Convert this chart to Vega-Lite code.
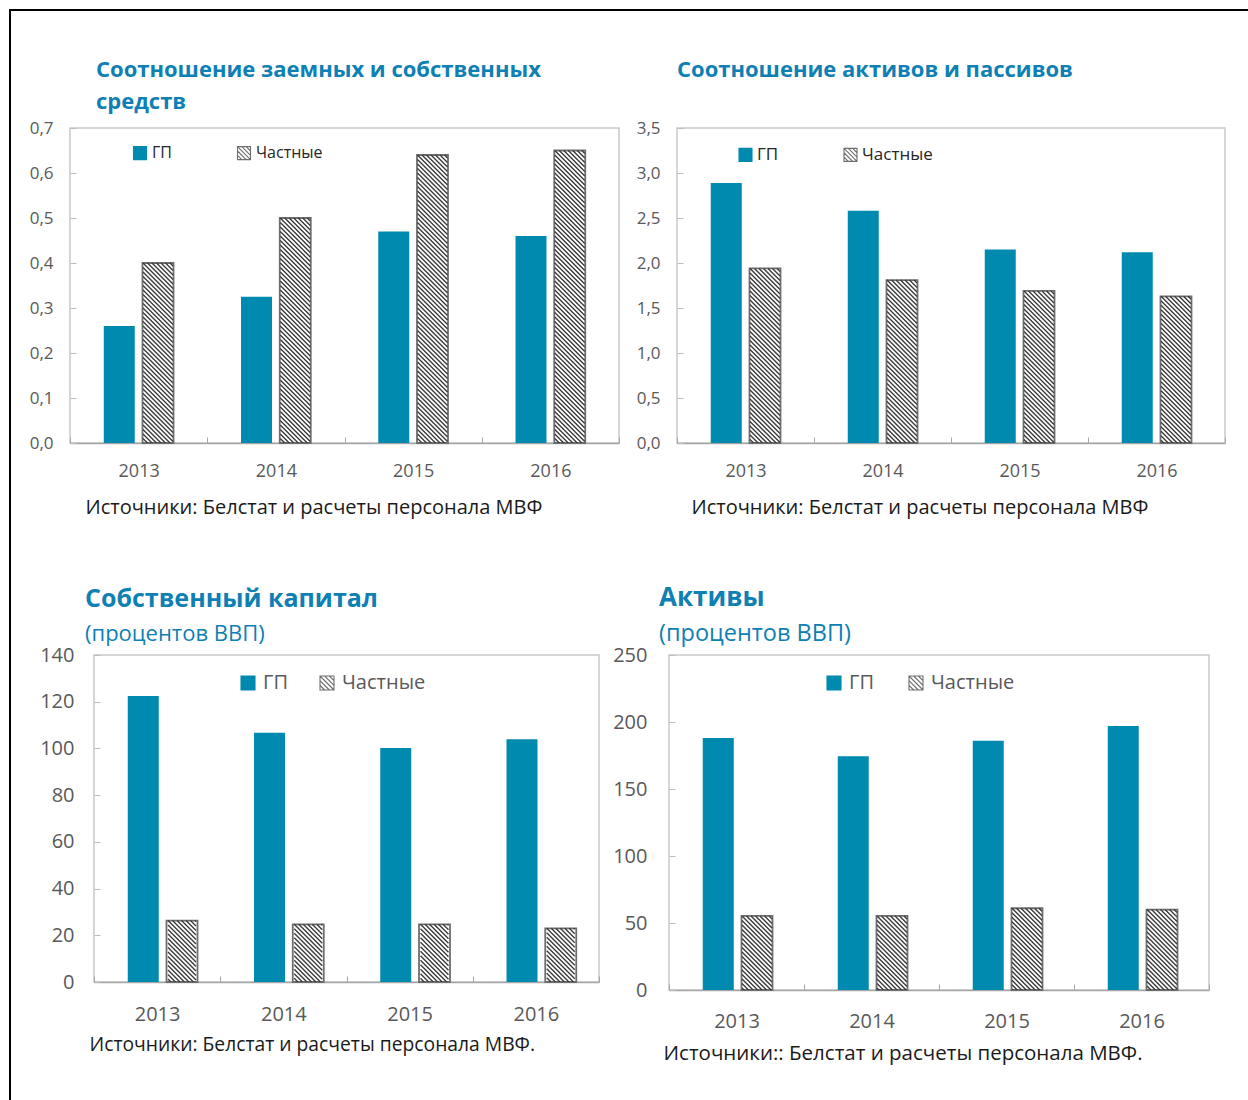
{
  "$schema": "https://vega.github.io/schema/vega-lite/v6.json",
  "background": "white",
  "padding": {"left": 9, "top": 9, "right": 0, "bottom": 0},
  "datasets": {
    "debtEquity": [
      {"year": "2013", "series": "ГП", "value": 0.26},
      {"year": "2013", "series": "Частные", "value": 0.40},
      {"year": "2014", "series": "ГП", "value": 0.325},
      {"year": "2014", "series": "Частные", "value": 0.50},
      {"year": "2015", "series": "ГП", "value": 0.47},
      {"year": "2015", "series": "Частные", "value": 0.64},
      {"year": "2016", "series": "ГП", "value": 0.46},
      {"year": "2016", "series": "Частные", "value": 0.65}
    ],
    "assetsLiabilities": [
      {"year": "2013", "series": "ГП", "value": 2.89},
      {"year": "2013", "series": "Частные", "value": 1.94},
      {"year": "2014", "series": "ГП", "value": 2.58},
      {"year": "2014", "series": "Частные", "value": 1.81},
      {"year": "2015", "series": "ГП", "value": 2.15},
      {"year": "2015", "series": "Частные", "value": 1.69},
      {"year": "2016", "series": "ГП", "value": 2.12},
      {"year": "2016", "series": "Частные", "value": 1.63}
    ],
    "equity": [
      {"year": "2013", "series": "ГП", "value": 122.5},
      {"year": "2013", "series": "Частные", "value": 26.3},
      {"year": "2014", "series": "ГП", "value": 106.7},
      {"year": "2014", "series": "Частные", "value": 24.7},
      {"year": "2015", "series": "ГП", "value": 100.2},
      {"year": "2015", "series": "Частные", "value": 24.7},
      {"year": "2016", "series": "ГП", "value": 103.9},
      {"year": "2016", "series": "Частные", "value": 23.0}
    ],
    "assets": [
      {"year": "2013", "series": "ГП", "value": 188.0},
      {"year": "2013", "series": "Частные", "value": 55.3},
      {"year": "2014", "series": "ГП", "value": 174.5},
      {"year": "2014", "series": "Частные", "value": 55.3},
      {"year": "2015", "series": "ГП", "value": 186.0},
      {"year": "2015", "series": "Частные", "value": 61.0},
      {"year": "2016", "series": "ГП", "value": 197.0},
      {"year": "2016", "series": "Частные", "value": 60.0}
    ]
  },
  "spacing": 0,
  "resolve": {"scale": {"fill": "independent", "stroke": "independent"}, "legend": {"fill": "independent", "stroke": "independent"}},
  "hconcat": [
    {
      "width": 2,
      "height": 1091,
      "data": {"values": []},
      "mark": "point",
      "encoding": {},
      "view": {"fill": "black", "stroke": null}
    },
    {
      "spacing": 47,
      "resolve": {"scale": {"fill": "independent", "stroke": "independent"}, "legend": {"fill": "independent", "stroke": "independent"}},
      "vconcat": [
        {
          "width": 1237,
          "height": 2,
          "data": {"values": []},
          "mark": "point",
          "encoding": {},
          "view": {"fill": "black", "stroke": null}
        },
        {
          "spacing": 65,
          "resolve": {"scale": {"fill": "independent", "stroke": "independent"}, "legend": {"fill": "independent", "stroke": "independent"}},
          "vconcat": [
            {
              "spacing": 14,
              "align": "each",
              "resolve": {"scale": {"fill": "independent", "stroke": "independent"}, "legend": {"fill": "independent", "stroke": "independent"}},
              "hconcat": [
                {
                  "width": 1,
                  "height": 1,
                  "data": {"values": []},
                  "mark": "point",
                  "encoding": {},
                  "view": {"stroke": null}
                },
                {
                  "width": 549,
                  "height": 315,
                  "title": {"text": ["Соотношение заемных и собственных", "средств"], "dx": 26, "fontSize": 22, "lineHeight": 32, "offset": 5},
                  "data": {"name": "debtEquity"},
                  "encoding": {
                    "x": {
                      "field": "year", "type": "ordinal",
                      "scale": {"paddingInner": 0, "paddingOuter": 0},
                      "axis": {"title": "Источники: Белстат и расчеты персонала МВФ", "labelFontSize": 18, "labelPadding": 25, "titleX": 15, "titlePadding": 17, "titleFontSize": 20}
                    },
                    "xOffset": {"field": "series", "type": "nominal", "scale": {"domain": ["ГП", "Частные"], "paddingInner": 0.2, "paddingOuter": 0.871}},
                    "y": {
                      "field": "value", "type": "quantitative",
                      "scale": {"domain": [0, 0.7], "nice": false},
                      "axis": {"title": null, "values": [0, 0.1, 0.2, 0.3, 0.4, 0.5, 0.6, 0.7], "format": ".1f", "labelFontSize": 17, "labelPadding": 23, "minExtent": 43}
                    }
                  },
                  "layer": [
                    {
                      "mark": {"type": "bar"},
                      "encoding": {
                        "fill": {
                          "field": "series", "type": "nominal",
                          "scale": {"domain": ["ГП", "Частные"], "range": ["#008aaf", "#ffffff"]},
                          "legend": {"legendX": 62, "legendY": 17, "symbolSize": 169, "labelFontSize": 16, "labelColor": "#262626", "labelOffset": 4, "columnPadding": 63}
                        },
                        "stroke": {
                          "field": "series", "type": "nominal",
                          "scale": {"domain": ["ГП", "Частные"], "range": ["#008aaf", "#6e6e6e"]},
                          "legend": {"legendX": 62, "legendY": 17, "symbolSize": 169, "labelFontSize": 16, "labelColor": "#262626", "labelOffset": 4, "columnPadding": 63}
                        },
                        "strokeWidth": {"condition": {"test": "datum.series === 'Частные'", "value": 1.8}, "value": 0}
                      }
                    },
                    {
                      "transform": [{"filter": "datum.series === 'Частные'"}],
                      "mark": {"type": "point", "filled": false, "opacity": 1, "size": 4, "stroke": "#3a3a3a", "strokeWidth": 1.4, "clip": true,
                        "shape": "M-10.5 0L15 25.5M-6 0L15 21M-1.5 0L15 16.5M3 0L15 12M7.5 0L15 7.5M12 0L15 3M-15 0l30 30M-15 4.5l30 30M-15 9l30 30M-15 13.5l30 30M-15 18l30 30M-15 22.5l30 30M-15 27l30 30M-15 31.5l30 30M-15 36l30 30M-15 40.5l30 30M-15 45l30 30M-15 49.5l30 30M-15 54l30 30M-15 58.5l30 30M-15 63l30 30M-15 67.5l30 30M-15 72l30 30M-15 76.5l30 30M-15 81l30 30M-15 85.5l30 30M-15 90l30 30M-15 94.5l30 30M-15 99l30 30M-15 103.5l30 30M-15 108l30 30M-15 112.5l30 30M-15 117l30 30M-15 121.5l30 30M-15 126l30 30M-15 130.5l30 30M-15 135l30 30M-15 139.5l30 30M-15 144l30 30M-15 148.5l30 30M-15 153l30 30M-15 157.5l30 30M-15 162l30 30M-15 166.5l30 30M-15 171l30 30M-15 175.5l30 30M-15 180l30 30M-15 184.5l30 30M-15 189l30 30M-15 193.5l30 30M-15 198l30 30M-15 202.5l30 30M-15 207l30 30M-15 211.5l30 30M-15 216l30 30M-15 220.5l30 30M-15 225l30 30M-15 229.5l30 30M-15 234l30 30M-15 238.5l30 30M-15 243l30 30M-15 247.5l30 30M-15 252l30 30M-15 256.5l30 30M-15 261l30 30M-15 265.5l30 30M-15 270l30 30M-15 274.5l30 30M-15 279l30 30M-15 283.5l30 30M-15 288l30 30M-15 292.5l30 30M-15 297l30 30"}
                    }
                  ]
                },
                {
                  "width": 548,
                  "height": 315,
                  "title": {"text": "Соотношение активов и пассивов", "fontSize": 22, "offset": 37},
                  "data": {"name": "assetsLiabilities"},
                  "encoding": {
                    "x": {
                      "field": "year", "type": "ordinal",
                      "scale": {"paddingInner": 0, "paddingOuter": 0},
                      "axis": {"title": "Источники: Белстат и расчеты персонала МВФ", "labelFontSize": 18, "labelPadding": 25, "titleX": 14, "titlePadding": 17, "titleFontSize": 20}
                    },
                    "xOffset": {"field": "series", "type": "nominal", "scale": {"domain": ["ГП", "Частные"], "paddingInner": 0.2, "paddingOuter": 0.868}},
                    "y": {
                      "field": "value", "type": "quantitative",
                      "scale": {"domain": [0, 3.5], "nice": false},
                      "axis": {"title": null, "values": [0, 0.5, 1, 1.5, 2, 2.5, 3, 3.5], "format": ".1f", "labelFontSize": 17, "labelPadding": 23, "minExtent": 41}
                    }
                  },
                  "layer": [
                    {
                      "mark": {"type": "bar"},
                      "encoding": {
                        "fill": {
                          "field": "series", "type": "nominal",
                          "scale": {"domain": ["ГП", "Частные"], "range": ["#008aaf", "#ffffff"]},
                          "legend": {"legendX": 60, "legendY": 18, "symbolSize": 169, "labelFontSize": 17, "labelColor": "#262626", "labelOffset": 3, "columnPadding": 62}
                        },
                        "stroke": {
                          "field": "series", "type": "nominal",
                          "scale": {"domain": ["ГП", "Частные"], "range": ["#008aaf", "#6e6e6e"]},
                          "legend": {"legendX": 60, "legendY": 18, "symbolSize": 169, "labelFontSize": 17, "labelColor": "#262626", "labelOffset": 3, "columnPadding": 62}
                        },
                        "strokeWidth": {"condition": {"test": "datum.series === 'Частные'", "value": 1.8}, "value": 0}
                      }
                    },
                    {
                      "transform": [{"filter": "datum.series === 'Частные'"}],
                      "mark": {"type": "point", "filled": false, "opacity": 1, "size": 4, "stroke": "#3a3a3a", "strokeWidth": 1.4, "clip": true,
                        "shape": "M-10.5 0L15 25.5M-6 0L15 21M-1.5 0L15 16.5M3 0L15 12M7.5 0L15 7.5M12 0L15 3M-15 0l30 30M-15 4.5l30 30M-15 9l30 30M-15 13.5l30 30M-15 18l30 30M-15 22.5l30 30M-15 27l30 30M-15 31.5l30 30M-15 36l30 30M-15 40.5l30 30M-15 45l30 30M-15 49.5l30 30M-15 54l30 30M-15 58.5l30 30M-15 63l30 30M-15 67.5l30 30M-15 72l30 30M-15 76.5l30 30M-15 81l30 30M-15 85.5l30 30M-15 90l30 30M-15 94.5l30 30M-15 99l30 30M-15 103.5l30 30M-15 108l30 30M-15 112.5l30 30M-15 117l30 30M-15 121.5l30 30M-15 126l30 30M-15 130.5l30 30M-15 135l30 30M-15 139.5l30 30M-15 144l30 30M-15 148.5l30 30M-15 153l30 30M-15 157.5l30 30M-15 162l30 30M-15 166.5l30 30M-15 171l30 30M-15 175.5l30 30M-15 180l30 30"}
                    }
                  ]
                }
              ]
            },
            {
              "spacing": 10,
              "align": "each",
              "resolve": {"scale": {"fill": "independent", "stroke": "independent"}, "legend": {"fill": "independent", "stroke": "independent"}},
              "hconcat": [
                {
                  "width": 1,
                  "height": 1,
                  "data": {"values": []},
                  "mark": "point",
                  "encoding": {},
                  "view": {"stroke": null}
                },
                {
                  "width": 505,
                  "height": 327,
                  "title": {"text": "Собственный капитал", "subtitle": "(процентов ВВП)", "dx": -9, "fontSize": 25, "subtitleFontSize": 22, "subtitlePadding": 12, "offset": 0},
                  "data": {"name": "equity"},
                  "encoding": {
                    "x": {
                      "field": "year", "type": "ordinal",
                      "scale": {"paddingInner": 0, "paddingOuter": 0},
                      "axis": {"title": "Источники: Белстат и расчеты персонала МВФ.", "labelFontSize": 20, "labelPadding": 28, "titleX": -5, "titlePadding": 11, "titleFontSize": 19.3}
                    },
                    "xOffset": {"field": "series", "type": "nominal", "scale": {"domain": ["ГП", "Частные"], "paddingInner": 0.2, "paddingOuter": 0.84}},
                    "y": {
                      "field": "value", "type": "quantitative",
                      "scale": {"domain": [0, 140], "nice": false},
                      "axis": {"title": null, "values": [0, 20, 40, 60, 80, 100, 120, 140], "format": "d", "labelFontSize": 20, "labelPadding": 26, "minExtent": 71}
                    }
                  },
                  "layer": [
                    {
                      "mark": {"type": "bar"},
                      "encoding": {
                        "fill": {
                          "field": "series", "type": "nominal",
                          "scale": {"domain": ["ГП", "Частные"], "range": ["#008aaf", "#ffffff"]},
                          "legend": {"legendX": 144, "legendY": 18, "symbolSize": 196, "labelFontSize": 20, "labelColor": "#595959", "labelOffset": 5, "columnPadding": 29}
                        },
                        "stroke": {
                          "field": "series", "type": "nominal",
                          "scale": {"domain": ["ГП", "Частные"], "range": ["#008aaf", "#6e6e6e"]},
                          "legend": {"legendX": 144, "legendY": 18, "symbolSize": 196, "labelFontSize": 20, "labelColor": "#595959", "labelOffset": 5, "columnPadding": 29}
                        },
                        "strokeWidth": {"condition": {"test": "datum.series === 'Частные'", "value": 1.8}, "value": 0}
                      }
                    },
                    {
                      "transform": [{"filter": "datum.series === 'Частные'"}],
                      "mark": {"type": "point", "filled": false, "opacity": 1, "size": 4, "stroke": "#3a3a3a", "strokeWidth": 1.4, "clip": true,
                        "shape": "M-9.5 0L14 23.5M-5 0L14 19M-0.5 0L14 14.5M4 0L14 10M8.5 0L14 5.5M13 0L14 1M-14 0l28 28M-14 4.5l28 28M-14 9l28 28M-14 13.5l28 28M-14 18l28 28M-14 22.5l28 28M-14 27l28 28M-14 31.5l28 28M-14 36l28 28M-14 40.5l28 28M-14 45l28 28M-14 49.5l28 28M-14 54l28 28M-14 58.5l28 28M-14 63l28 28"}
                    }
                  ]
                },
                {
                  "width": 540,
                  "height": 335,
                  "title": {"text": "Активы", "subtitle": "(процентов ВВП)", "dx": -10, "fontSize": 26, "subtitleFontSize": 23.5, "subtitlePadding": 11, "offset": 0},
                  "data": {"name": "assets"},
                  "encoding": {
                    "x": {
                      "field": "year", "type": "ordinal",
                      "scale": {"paddingInner": 0, "paddingOuter": 0},
                      "axis": {"title": "Источники:: Белстат и расчеты персонала МВФ.", "labelFontSize": 20, "labelPadding": 27, "titleX": -6, "titlePadding": 12, "titleFontSize": 20.5}
                    },
                    "xOffset": {"field": "series", "type": "nominal", "scale": {"domain": ["ГП", "Частные"], "paddingInner": 0.2, "paddingOuter": 0.842}},
                    "y": {
                      "field": "value", "type": "quantitative",
                      "scale": {"domain": [0, 250], "nice": false},
                      "axis": {"title": null, "values": [0, 50, 100, 150, 200, 250], "format": "d", "labelFontSize": 20, "labelPadding": 28, "minExtent": 54}
                    }
                  },
                  "layer": [
                    {
                      "mark": {"type": "bar"},
                      "encoding": {
                        "fill": {
                          "field": "series", "type": "nominal",
                          "scale": {"domain": ["ГП", "Частные"], "range": ["#008aaf", "#ffffff"]},
                          "legend": {"legendX": 155, "legendY": 18, "symbolSize": 196, "labelFontSize": 20, "labelColor": "#595959", "labelOffset": 5, "columnPadding": 32}
                        },
                        "stroke": {
                          "field": "series", "type": "nominal",
                          "scale": {"domain": ["ГП", "Частные"], "range": ["#008aaf", "#6e6e6e"]},
                          "legend": {"legendX": 155, "legendY": 18, "symbolSize": 196, "labelFontSize": 20, "labelColor": "#595959", "labelOffset": 5, "columnPadding": 32}
                        },
                        "strokeWidth": {"condition": {"test": "datum.series === 'Частные'", "value": 1.8}, "value": 0}
                      }
                    },
                    {
                      "transform": [{"filter": "datum.series === 'Частные'"}],
                      "mark": {"type": "point", "filled": false, "opacity": 1, "size": 4, "stroke": "#3a3a3a", "strokeWidth": 1.4, "clip": true,
                        "shape": "M-10.5 0L15 25.5M-6 0L15 21M-1.5 0L15 16.5M3 0L15 12M7.5 0L15 7.5M12 0L15 3M-15 0l30 30M-15 4.5l30 30M-15 9l30 30M-15 13.5l30 30M-15 18l30 30M-15 22.5l30 30M-15 27l30 30M-15 31.5l30 30M-15 36l30 30M-15 40.5l30 30M-15 45l30 30M-15 49.5l30 30M-15 54l30 30M-15 58.5l30 30M-15 63l30 30M-15 67.5l30 30M-15 72l30 30M-15 76.5l30 30M-15 81l30 30M-15 85.5l30 30"}
                    }
                  ]
                }
              ]
            }
          ]
        }
      ]
    }
  ],
  "config": {
    "locale": {"number": {"decimal": ",", "thousands": " ", "grouping": [3], "currency": ["", ""]}},
    "font": "Open Sans",
    "view": {"stroke": "#c9c9c9", "strokeWidth": 1.5},
    "axis": {"grid": false, "labelFont": "Open Sans", "titleFont": "Open Sans", "labelColor": "#595959"},
    "axisX": {"labelAngle": 0, "tickBand": "extent", "tickSize": -6, "tickColor": "#a6a6a6", "tickWidth": 1, "domainColor": "#a6a6a6", "domainWidth": 1.5, "titleAlign": "left", "titleAnchor": "start", "titleFontWeight": "normal", "titleColor": "#1a1a1a"},
    "axisY": {"domain": false, "tickSize": -6, "tickColor": "#bdbdbd"},
    "legend": {"orient": "none", "direction": "horizontal", "title": null, "labelFont": "Open Sans", "padding": 0, "symbolStrokeWidth": 1.1, "symbolType": "M-1 -1H1V1H-1ZM-1 -1L1 1M-0.33 -1L1 0.33M0.33 -1L1 -0.33M-1 -0.33L0.33 1M-1 0.33L-0.33 1"},
    "title": {"anchor": "start", "frame": "group", "font": "Open Sans", "fontWeight": "bold", "color": "#0e80b4", "subtitleColor": "#0e80b4", "subtitleFont": "Open Sans"}
  }
}
